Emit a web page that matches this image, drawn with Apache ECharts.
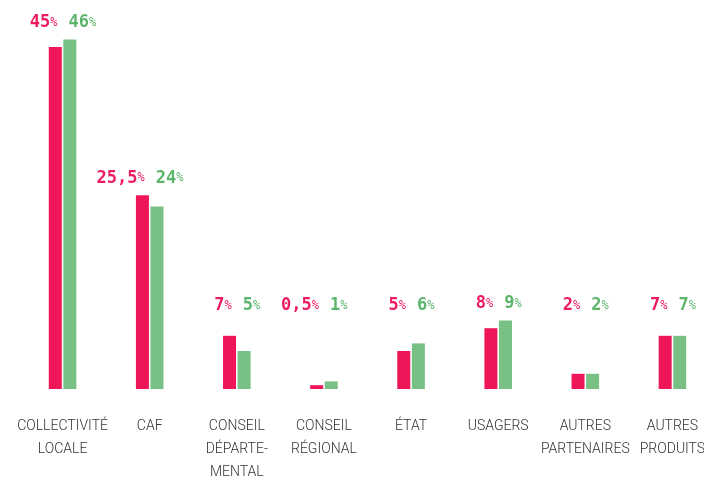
<!DOCTYPE html>
<html>
<head>
<meta charset="utf-8">
<script src="https://cdn.jsdelivr.net/npm/echarts@6/dist/echarts.min.js"></script>
<style>
    html, body { margin: 0; padding: 0; background: #fff; }
    #chart { width: 704px; height: 477px; }
</style>
</head>
<body>
<div id="chart"></div>
<script>
    // données
    var categories = ['COLLECTIVITÉ\nLOCALE', 'CAF', 'CONSEIL\nDÉPARTE-\nMENTAL', 'CONSEIL\nRÉGIONAL', 'ÉTAT', 'USAGERS', 'AUTRES\nPARTENAIRES', 'AUTRES\nPRODUITS'];
    var valeursA = [45, 25.5, 7, 0.5, 5, 8, 2, 7];
    var valeursB = [46, 24, 5, 1, 6, 9, 2, 7];
    var libellesA = ['45', '25,5', '7', '0,5', '5', '8', '2', '7'];
    var libellesB = ['46', '24', '5', '1', '6', '9', '2', '7'];

    var rose = '#ee1558';
    var vert = '#78c084';
    var roseTexte = '#ec1c5e';
    var vertTexte = '#5db56c';
    var mono = '"DejaVu Sans Mono", monospace';

    var chart = echarts.init(document.getElementById('chart'));

    // étiquettes au-dessus de chaque paire
    function renderEtiquettes(params, api) {
        var i = api.value(0);
        var haut = Math.max(api.value(1), api.value(2), 8.7);
        var p = api.coord([i, haut]);
        var y = p[1] - 17;
        return {
            type: 'group',
            children: [{
                type: 'text',
                x: p[0] - 5,
                y: y,
                style: {
                    text: '{n|' + libellesA[i] + '}{p|%}',
                    align: 'right',
                    verticalAlign: 'middle',
                    rich: {
                        n: {fontFamily: mono, fontWeight: 'bold', fontSize: 17, fill: roseTexte},
                        p: {fontFamily: mono, fontSize: 12, fill: roseTexte}
                    }
                }
            }, {
                type: 'text',
                x: p[0] + 6,
                y: y,
                style: {
                    text: '{n|' + libellesB[i] + '}{p|%}',
                    align: 'left',
                    verticalAlign: 'middle',
                    rich: {
                        n: {fontFamily: mono, fontWeight: 'bold', fontSize: 17, fill: vertTexte},
                        p: {fontFamily: mono, fontSize: 12, fill: vertTexte}
                    }
                }
            }]
        };
    }

    var donneesEtiquettes = [];
    for (var i = 0; i < categories.length; i++) {
        donneesEtiquettes.push([i, valeursA[i], valeursB[i]]);
    }

    var option = {
        animation: false,
        grid: {left: 19, top: 9, width: 697, bottom: 88, outerBoundsMode: 'none', containLabel: false},
        xAxis: {
            type: 'category',
            data: categories,
            axisLine: {show: false},
            axisTick: {show: false},
            axisLabel: {
                interval: 0,
                margin: 26,
                color: '#333',
                fontFamily: 'Roboto',
                fontWeight: 300,
                fontSize: 14,
                lineHeight: 23
            }
        },
        yAxis: {
            type: 'value',
            min: 0,
            max: 50,
            show: false
        },
        series: [
            {type: 'bar', data: valeursA, barWidth: 13, barGap: '12%', itemStyle: {color: rose}},
            {type: 'bar', data: valeursB, barWidth: 13, barGap: '12%', itemStyle: {color: vert}},
            {type: 'custom', data: donneesEtiquettes, renderItem: renderEtiquettes, z: 10}
        ]
    };
    chart.setOption(option);
</script>
</body>
</html>
